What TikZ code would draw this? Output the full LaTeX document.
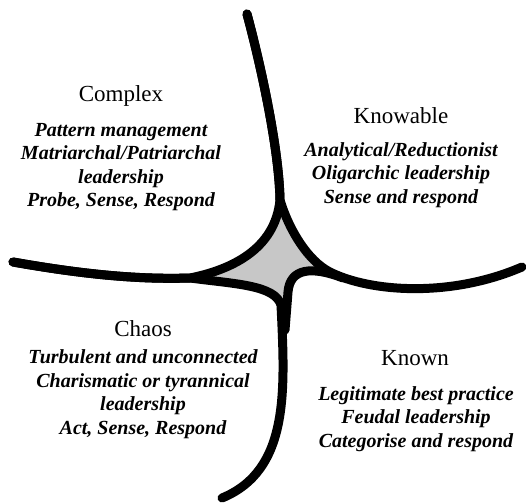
\documentclass[tikz,border=0pt]{standalone}
\usepackage{fontspec}
\setmainfont{Liberation Serif}
\usetikzlibrary{positioning}
\definecolor{centregray}{gray}{0.78}
\tikzset{
  boundary/.style={line width=9pt, line cap=round, line join=round},
  regionname/.style={font=\fontsize{23}{27}\selectfont, inner sep=0pt},
  regiontext/.style={font=\fontsize{20}{23.5}\selectfont\bfseries\itshape,
                     align=center, inner sep=0pt}
}
\begin{document}
\begin{tikzpicture}[x=1pt,y=-1pt]
    \useasboundingbox (0,0) rectangle (526,502);

    \coordinate (topend) at (247,14);
    \coordinate (toptip) at (280,200);
    \coordinate (leftend) at (13,262);
    \coordinate (lefttip) at (190,278);
    \coordinate (rightend) at (522,267);
    \coordinate (righttip) at (330,272);
    \coordinate (bottomend) at (222,498);
    \coordinate (bottomtip) at (281,305);

    \fill[centregray] (lefttip) .. controls (230,270) and (275,250) .. (toptip)
      .. controls (289,230) and (308,261) .. (righttip)
      .. controls (305,268) and (290,268) .. (288,292) -- (bottomtip)
      .. controls (275,285) and (235,284) .. (lefttip) -- cycle;

    \draw[boundary] (leftend) .. controls (70,272) and (130,280) .. (lefttip)
      .. controls (230,270) and (275,250) .. (toptip)
      .. controls (279,150) and (262,70) .. (topend);
    \draw[boundary] (topend) .. controls (262,70) and (279,150) .. (toptip)
      .. controls (289,230) and (308,261) .. (righttip)
      .. controls (370,292) and (450,298) .. (rightend);
    \draw[boundary] (343,278) .. controls (312,266) and (290,268) .. (288,292)
      -- (285,330);
    \draw[boundary] (leftend) .. controls (70,272) and (130,280) .. (lefttip)
      .. controls (235,284) and (275,285) .. (bottomtip)
      .. controls (285,390) and (290,470) .. (bottomend);

    \node[regionname] (complex) at (121,96) {Complex};
    \node[regiontext] (complextext) at (121,167)
      {Pattern management\\Matriarchal/Patriarchal\\leadership\\Probe, Sense, Respond};
    \node[regionname] (knowable) at (401,116) {Knowable};
    \node[regiontext] (knowabletext) at (401,175)
      {Analytical/Reductionist\\Oligarchic leadership\\Sense and respond};
    \node[regionname] (chaos) at (143,329) {Chaos};
    \node[regiontext] (chaostext) at (143,394)
      {Turbulent and unconnected\\Charismatic or tyrannical\\leadership\\Act, Sense, Respond};
    \node[regionname] (known) at (415,358) {Known};
    \node[regiontext] (knowntext) at (416,419)
      {Legitimate best practice\\Feudal leadership\\Categorise and respond};
\end{tikzpicture}
\end{document}
